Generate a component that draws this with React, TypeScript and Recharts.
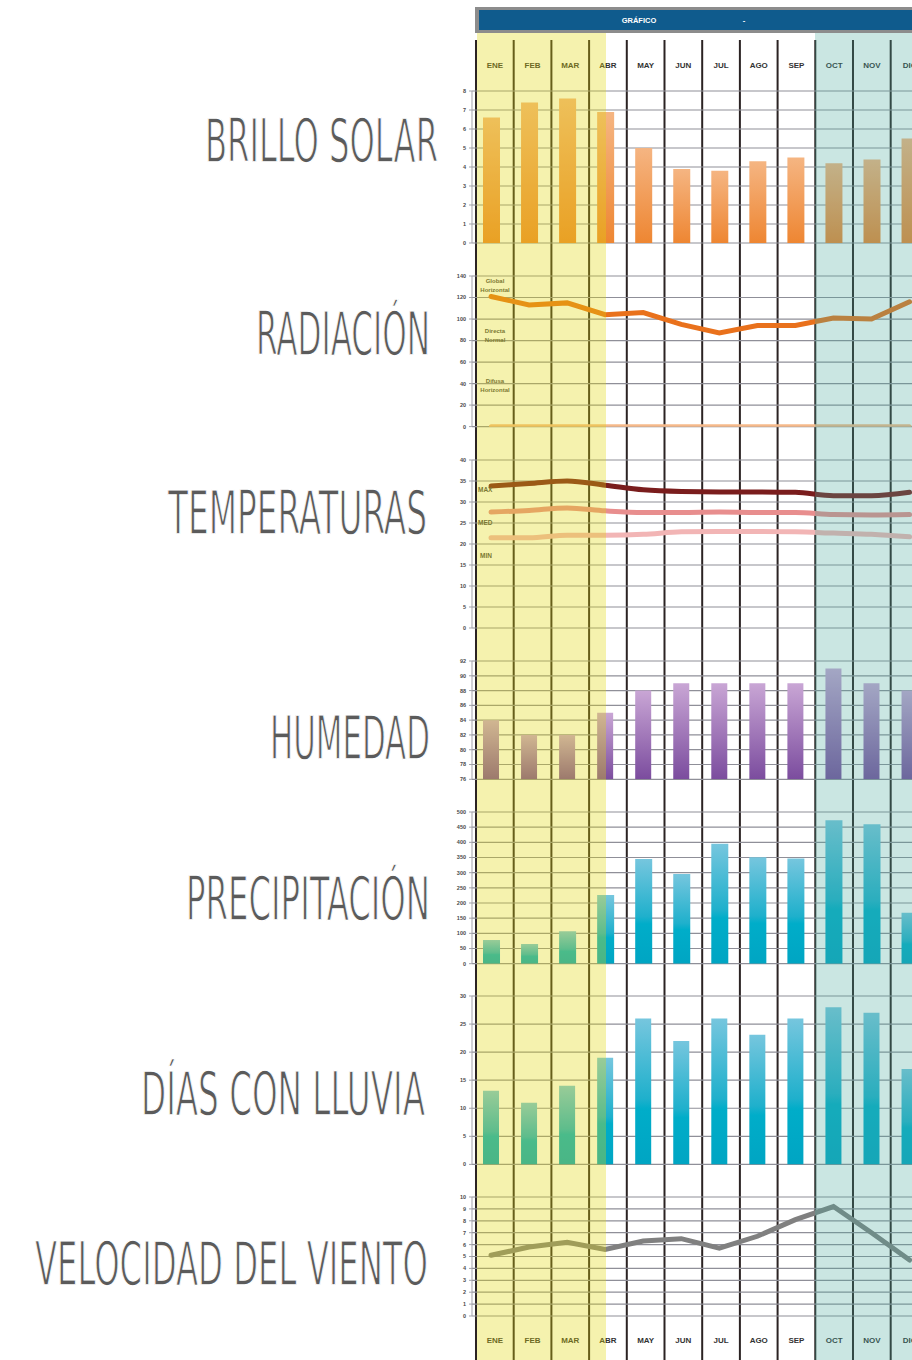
import React from 'react';
import { ComposedChart, Bar, Line, XAxis, YAxis, CartesianGrid, ReferenceLine } from 'recharts';

// Months
const months = ['ENE', 'FEB', 'MAR', 'ABR', 'MAY', 'JUN', 'JUL', 'AGO', 'SEP', 'OCT', 'NOV', 'DIC'];

// Series
const brilloSolar = [6.6, 7.4, 7.6, 6.9, 5.0, 3.9, 3.8, 4.3, 4.5, 4.2, 4.4, 5.5];
const radGlobal = [121, 113, 115, 104, 106, 95, 87, 94, 94, 101, 100, 116];
const radDirecta = [0, 0, 0, 0, 0, 0, 0, 0, 0, 0, 0, 0];
const radDifusa = [0, 0, 0, 0, 0, 0, 0, 0, 0, 0, 0, 0];
const tempMax = [33.8, 34.4, 35.0, 34.0, 32.9, 32.5, 32.4, 32.4, 32.3, 31.5, 31.5, 32.3];
const tempMed = [27.6, 28.0, 28.6, 27.9, 27.5, 27.5, 27.6, 27.5, 27.5, 27.0, 26.9, 27.0];
const tempMin = [21.5, 21.5, 22.1, 22.1, 22.3, 22.9, 23.0, 23.0, 22.9, 22.6, 22.3, 21.7];
const humedad = [84, 82, 82, 85, 88, 89, 89, 89, 89, 91, 89, 88];
const precipitacion = [78, 65, 107, 226, 345, 296, 395, 351, 347, 473, 460, 168];
const diasLluvia = [13.1, 11, 14, 19, 26, 22, 26, 23.1, 26, 28, 27, 17];
const viento = [5.1, 5.8, 6.2, 5.6, 6.3, 6.5, 5.7, 6.7, 8.1, 9.2, 7.0, 4.7];

// Tick labels
const brilloTicks = [0, 1, 2, 3, 4, 5, 6, 7, 8];
const radTicks = [0, 20, 40, 60, 80, 100, 120, 140];
const tempTicks = [0, 5, 10, 15, 20, 25, 30, 35, 40];
const humTicks = [76, 78, 80, 82, 84, 86, 88, 90, 92];
const precTicks = [0, 50, 100, 150, 200, 250, 300, 350, 400, 450, 500];
const diasTicks = [0, 5, 10, 15, 20, 25, 30];
const vientoTicks = [0, 1, 2, 3, 4, 5, 6, 7, 8, 9, 10];

const rows = months.map((m, i) => ({
  m,
  brillo: brilloSolar[i],
  global: radGlobal[i],
  directa: radDirecta[i],
  difusa: radDifusa[i],
  max: tempMax[i],
  med: tempMed[i],
  min: tempMin[i],
  hum: humedad[i],
  prec: precipitacion[i],
  dias: diasLluvia[i],
  viento: viento[i],
}));

// column frame: month centres and the boundaries between them
const frameRows = months.map((m, i) => ({ x: i + 0.5, m, base: 0 }));
const bounds = [...months.map((_, i) => i), months.length];

const FONT = "'Liberation Sans', Arial, sans-serif";
const PANEL_LEFT = 420;
const AXIS_W = 52;
const PLOT_W = 456.6;
const PAD = 6;
const FRAME_LEFT = 472;
const FRAME_W = 452.4;

const Panel = ({ top, bottom, domain, ticks, children }: any) => (
  <div style={{ position: 'absolute', left: PANEL_LEFT, top: top - PAD }}>
    <ComposedChart
      width={AXIS_W + PLOT_W}
      height={bottom - top + PAD * 2}
      data={rows}
      margin={{ top: PAD, bottom: PAD, left: 0, right: 0 }}
    >
      {children[0]}
      <CartesianGrid vertical={false} stroke="#8f8f98" strokeWidth={1.2} />
      <XAxis dataKey="m" scale="band" hide height={0} />
      <YAxis
        domain={domain}
        ticks={ticks}
        interval={0}
        width={AXIS_W}
        allowDataOverflow
        tickSize={3}
        tickMargin={3}
        axisLine={{ stroke: '#a3a3aa' }}
        tickLine={{ stroke: '#a3a3aa' }}
        tick={{ fontSize: 5.5, fontWeight: 700, fill: '#4a4a4a', fontFamily: FONT }}
      />
      {children.slice(1)}
    </ComposedChart>
  </div>
);

// month name written at the top and at the bottom of its column
const monthLabel = (name: string) => (p: any) => {
  const cx = p.viewBox.x;
  const style = { fontSize: 8, fontWeight: 700, fill: '#333333', fontFamily: FONT };
  return (
    <g>
      <text x={cx} y={66} textAnchor="middle" dominantBaseline="central" {...style}>{name}</text>
      <text x={cx} y={1341} textAnchor="middle" dominantBaseline="central" {...style}>{name}</text>
    </g>
  );
};

const titles = [
  { t: 'BRILLO SOLAR', x: 205, y: 162, w: 233 },
  { t: 'RADIACIÓN', x: 256, y: 355, w: 174 },
  { t: 'TEMPERATURAS', x: 168, y: 534, w: 259 },
  { t: 'HUMEDAD', x: 270, y: 759, w: 160 },
  { t: 'PRECIPITACIÓN', x: 186, y: 920, w: 244 },
  { t: 'DÍAS CON LLUVIA', x: 141, y: 1115, w: 284 },
  { t: 'VELOCIDAD DEL VIENTO', x: 35, y: 1285, w: 393 },
];

const smallLabel = { fontSize: 6, fontWeight: 700, fill: '#4a4a4a', fontFamily: FONT } as const;

const App = () => {
  return (
    <div
      style={{
        position: 'absolute',
        left: 0,
        top: 0,
        width: 912,
        height: 1360,
        overflow: 'hidden',
        background: '#fff',
      }}
    >
      {/* column frame with month labels */}
      <div style={{ position: 'absolute', left: FRAME_LEFT, top: 0 }}>
        <ComposedChart width={FRAME_W + 8} height={1360} data={frameRows} margin={{ top: 40, bottom: 0, left: 4, right: 4 }}>
          <XAxis type="number" dataKey="x" domain={[0, 12]} hide />
          <YAxis hide domain={[0, 1]} />
          <Line dataKey="base" stroke="none" dot={false} isAnimationActive={false} />
          {bounds.map((b) => (
            <ReferenceLine key={'b' + b} x={b} stroke="#2b2323" strokeWidth={2} />
          ))}
          {frameRows.map((r) => (
            <ReferenceLine key={r.m} x={r.x} stroke="none" label={monthLabel(r.m)} />
          ))}
        </ComposedChart>
      </div>

      {/* BRILLO SOLAR */}
      <Panel top={91} bottom={243} domain={[0, 8]} ticks={brilloTicks}>
        <defs>
          <linearGradient id="gBrillo" x1="0" y1="0" x2="0" y2="1">
            <stop offset="0%" stopColor="#f5b582" />
            <stop offset="100%" stopColor="#ee8632" />
          </linearGradient>
        </defs>
        <Bar dataKey="brillo" fill="url(#gBrillo)" barSize={17} isAnimationActive={false} />
      </Panel>

      {/* RADIACION */}
      <Panel top={275.7} bottom={426.3} domain={[0, 140]} ticks={radTicks}>
        <defs />
        <Line dataKey="difusa" stroke="#f6b98a" strokeWidth={4} dot={false} strokeLinecap="round" isAnimationActive={false} />
        <Line dataKey="directa" stroke="#f6b98a" strokeWidth={4} dot={false} strokeLinecap="round" isAnimationActive={false} />
        <Line dataKey="global" stroke="#e9711c" strokeWidth={5} dot={false} strokeLinecap="round" isAnimationActive={false} />
      </Panel>

      {/* TEMPERATURAS */}
      <Panel top={460.3} bottom={628.3} domain={[0, 40]} ticks={tempTicks}>
        <defs />
        <Line type="monotone" dataKey="min" stroke="#f2b5b5" strokeWidth={5} dot={false} strokeLinecap="round" isAnimationActive={false} />
        <Line type="monotone" dataKey="med" stroke="#e88e8e" strokeWidth={5} dot={false} strokeLinecap="round" isAnimationActive={false} />
        <Line type="monotone" dataKey="max" stroke="#7a1d1d" strokeWidth={5} dot={false} strokeLinecap="round" isAnimationActive={false} />
      </Panel>

      {/* HUMEDAD */}
      <Panel top={661} bottom={779.3} domain={[76, 92]} ticks={humTicks}>
        <defs>
          <linearGradient id="gHum" x1="0" y1="0" x2="0" y2="1">
            <stop offset="0%" stopColor="#c9a6d5" />
            <stop offset="100%" stopColor="#7b4c9e" />
          </linearGradient>
        </defs>
        <Bar dataKey="hum" fill="url(#gHum)" barSize={16} isAnimationActive={false} />
      </Panel>

      {/* PRECIPITACION */}
      <Panel top={812} bottom={963.7} domain={[0, 500]} ticks={precTicks}>
        <defs>
          <linearGradient id="gPrec" x1="0" y1="0" x2="0" y2="1">
            <stop offset="0%" stopColor="#76c6de" />
            <stop offset="55%" stopColor="#1fb0cc" />
            <stop offset="62%" stopColor="#00adc9" />
            <stop offset="100%" stopColor="#00a5c3" />
          </linearGradient>
        </defs>
        <Bar dataKey="prec" fill="url(#gPrec)" barSize={17} isAnimationActive={false} />
      </Panel>

      {/* DIAS CON LLUVIA */}
      <Panel top={996.3} bottom={1164.7} domain={[0, 30]} ticks={diasTicks}>
        <defs>
          <linearGradient id="gDias" x1="0" y1="0" x2="0" y2="1">
            <stop offset="0%" stopColor="#76c6de" />
            <stop offset="55%" stopColor="#1fb0cc" />
            <stop offset="62%" stopColor="#00adc9" />
            <stop offset="100%" stopColor="#00a5c3" />
          </linearGradient>
        </defs>
        <Bar dataKey="dias" fill="url(#gDias)" barSize={16} isAnimationActive={false} />
      </Panel>

      {/* VELOCIDAD DEL VIENTO */}
      <Panel top={1196.7} bottom={1315.7} domain={[0, 10]} ticks={vientoTicks}>
        <defs />
        <Line dataKey="viento" stroke="#808080" strokeWidth={5} dot={false} strokeLinecap="round" isAnimationActive={false} />
      </Panel>

      {/* titles and in-chart labels */}
      <svg width={912} height={1360} style={{ position: 'absolute', left: 0, top: 0, pointerEvents: 'none' }}>
        {titles.map((d) => (
          <text
            key={d.t}
            x={d.x}
            y={d.y}
            textLength={d.w}
            lengthAdjust="spacingAndGlyphs"
            fontSize={61}
            fill="#5b5b5b"
            stroke="#fff"
            strokeWidth={1.3}
            fontFamily="'Liberation Sans Narrow', 'DejaVu Sans Condensed', sans-serif"
          >
            {d.t}
          </text>
        ))}
        <text x={495} y={283} textAnchor="middle" {...smallLabel}>Global</text>
        <text x={495} y={291.5} textAnchor="middle" {...smallLabel}>Horizontal</text>
        <text x={495} y={332.5} textAnchor="middle" {...smallLabel}>Directa</text>
        <text x={495} y={341.5} textAnchor="middle" {...smallLabel}>Normal</text>
        <text x={495} y={382.5} textAnchor="middle" {...smallLabel}>Difusa</text>
        <text x={495} y={391.5} textAnchor="middle" {...smallLabel}>Horizontal</text>
        <text x={478} y={492} {...smallLabel} fontSize={6.5}>MAX</text>
        <text x={478} y={524.5} {...smallLabel} fontSize={6.5}>MED</text>
        <text x={480} y={558} {...smallLabel} fontSize={6.5}>MIN</text>
      </svg>

      {/* seasonal bands */}
      <div style={{ position: 'absolute', left: 477, top: 33, width: 128.7, height: 1327, background: 'rgba(224,215,9,0.33)' }} />
      <div style={{ position: 'absolute', left: 815, top: 33, width: 97, height: 1327, background: 'rgba(73,168,156,0.29)' }} />

      {/* header */}
      <svg width={912} height={36} style={{ position: 'absolute', left: 0, top: 0 }}>
        <rect x={475} y={7} width={460} height={26} fill="#8c8c8c" />
        <rect x={479} y={10} width={460} height={20} fill="#0f5b8d" />
        <text x={639} y={20} textAnchor="middle" dominantBaseline="central" fontSize={7.5} fontWeight={700} fill="#fff" fontFamily={FONT}>
          GRÁFICO
        </text>
        <text x={744} y={20} textAnchor="middle" dominantBaseline="central" fontSize={7.5} fontWeight={700} fill="#fff" fontFamily={FONT}>
          -
        </text>
      </svg>
    </div>
  );
};

export default App;
